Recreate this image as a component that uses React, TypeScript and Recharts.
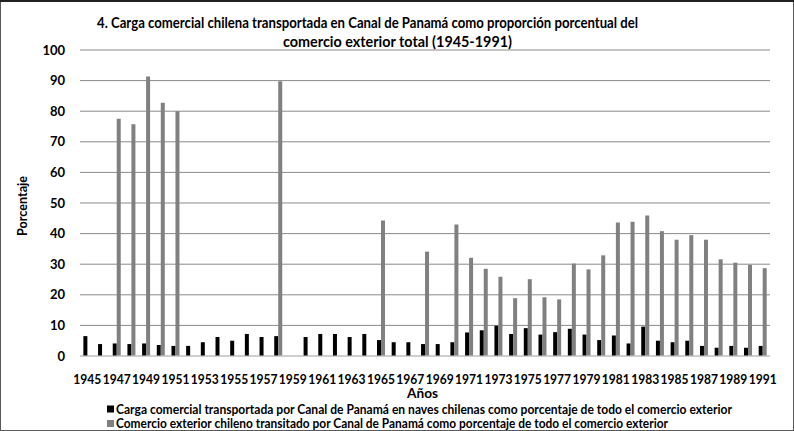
import React from "react"
import { Bar, BarChart, CartesianGrid, XAxis, YAxis } from "recharts"

const years = [
  1945, 1946, 1947, 1948, 1949, 1950, 1951, 1952, 1953, 1954, 1955, 1956, 1957, 1958, 1959, 1960,
  1961, 1962, 1963, 1964, 1965, 1966, 1967, 1968, 1969, 1970, 1971, 1972, 1973, 1974, 1975, 1976,
  1977, 1978, 1979, 1980, 1981, 1982, 1983, 1984, 1985, 1986, 1987, 1988, 1989, 1990, 1991,
]

// carga en naves chilenas (%)
const navesChilenas = [
  6.5, 3.9, 4.1, 3.9, 4.1, 3.6, 3.3, 3.3, 4.5, 6.2, 5.0, 7.2, 6.2, 6.5, null, 6.2,
  7.2, 7.2, 6.2, 7.2, 5.2, 4.5, 4.5, 3.9, 3.9, 4.5, 7.7, 8.4, 9.9, 7.2, 9.1, 7.0,
  7.8, 8.9, 7.0, 5.2, 6.7, 4.1, 9.6, 5.0, 4.5, 5.0, 3.3, 2.7, 3.3, 2.7, 3.3,
]

// comercio exterior transitado por el canal (%)
const comercioTransitado = [
  null, null, 77.5, 75.7, 91.3, 82.8, 80.0, null, null, null, null, null, null, 89.8, null, null,
  null, null, null, null, 44.3, null, null, 34.1, null, 43.0, 32.1, 28.5, 25.9, 18.9, 25.1, 19.2,
  18.5, 30.2, 28.3, 32.9, 43.6, 43.9, 45.9, 40.8, 38.0, 39.5, 38.0, 31.6, 30.5, 29.8, 28.7,
]

const yTicks = [0, 10, 20, 30, 40, 50, 60, 70, 80, 90, 100]

const title1 = "4. Carga comercial chilena transportada en Canal de Panamá como proporción porcentual del"
const title2 = "comercio exterior total (1945-1991)"
const legend1 = "Carga comercial transportada por Canal de Panamá en naves chilenas como porcentaje de todo el comercio exterior"
const legend2 = "Comercio exterior chileno transitado por Canal de Panamá como porcentaje de todo el comercio exterior"

const data = years.map((y, i) => ({
  year: String(y),
  naves: navesChilenas[i],
  comercio: comercioTransitado[i],
}))

const font = "Lato, 'Open Sans', sans-serif"

const YearTick = (props: any) => {
  const { x, y, payload } = props
  return (
    <text
      x={x}
      y={y}
      dy={10}
      textAnchor="middle"
      fontFamily={font}
      fontWeight="bold"
      fontSize={14}
      fill="#000"
      textLength={28}
      lengthAdjust="spacingAndGlyphs"
    >
      {payload.value}
    </text>
  )
}

export default function App() {
  const txt = { fontFamily: font, fontWeight: "bold" as const, fill: "#000" }
  return (
    <div
      style={{
        position: "absolute",
        left: 0,
        top: 0,
        width: 794,
        height: 431,
        background: "#fff",
        overflow: "hidden",
      }}
    >
      <BarChart
        width={794}
        height={431}
        data={data}
        margin={{ top: 50, right: 24, left: 20, bottom: 35 }}
        barCategoryGap="23%"
        barGap={0}
      >
        <CartesianGrid vertical={false} stroke="#8a8a8a" />
        <XAxis
          dataKey="year"
          interval={1}
          tickLine={false}
          axisLine={{ stroke: "#d9d9d9" }}
          height={40}
          tickMargin={12}
          tick={<YearTick />}
        />
        <YAxis
          width={60}
          domain={[0, 100]}
          ticks={yTicks}
          tickLine={false}
          axisLine={false}
          tickMargin={9}
          tick={{ fontSize: 13, fontWeight: "bold", fill: "#000", fontFamily: font }}
        />
        <Bar dataKey="naves" fill="#000000" isAnimationActive={false} />
        <Bar dataKey="comercio" fill="#808080" isAnimationActive={false} />
      </BarChart>

      <svg
        width={794}
        height={431}
        style={{ position: "absolute", left: 0, top: 0, pointerEvents: "none" }}
      >
        <text {...txt} x={97} y={28} fontSize={15.5} textLength={541} lengthAdjust="spacingAndGlyphs">
          {title1}
        </text>
        <text {...txt} x={283} y={47} fontSize={15.5} textLength={229} lengthAdjust="spacingAndGlyphs">
          {title2}
        </text>

        <text {...txt} x={407} y={397.5} fontSize={13} textLength={31} lengthAdjust="spacingAndGlyphs">
          Años
        </text>

        <text
          {...txt}
          x={0}
          y={0}
          fontSize={13}
          textAnchor="middle"
          transform="translate(27 206) rotate(-90)"
          textLength={60}
          lengthAdjust="spacingAndGlyphs"
        >
          Porcentaje
        </text>

        <rect x={107} y={405.5} width={7} height={7} fill="#000" />
        <text {...txt} x={116} y={413.5} fontSize={13.5} textLength={616} lengthAdjust="spacingAndGlyphs">
          {legend1}
        </text>
        <rect x={107} y={420} width={7} height={7} fill="#808080" />
        <text {...txt} x={116} y={428} fontSize={13.5} textLength={552} lengthAdjust="spacingAndGlyphs">
          {legend2}
        </text>

        <rect x={0.5} y={0.5} width={793} height={430} fill="none" stroke="#595959" />
        <line x1={0} y1={1} x2={794} y2={1} stroke="#222" strokeWidth={2} />
      </svg>
    </div>
  )
}
